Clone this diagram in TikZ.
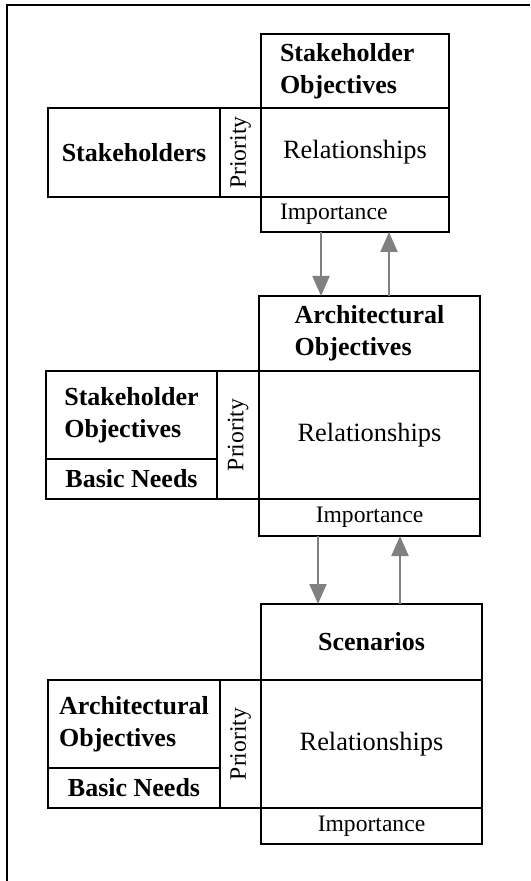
\documentclass[tikz,border=0pt]{standalone}
\usepackage{fontspec}
\setmainfont{Liberation Serif}
\usepackage{tikz}
\usetikzlibrary{positioning}
\usetikzlibrary{arrows.meta}

\begin{document}
\begin{tikzpicture}[
    x=0.5pt, y=-0.5pt,
    >={Triangle[width=8.5pt,length=10pt]},
    node distance=0pt and 0pt,
    every node/.style={font=\fontsize{11.8}{14}\selectfont},
    cell/.style={draw, line width=1.3pt, outer sep=0pt, inner sep=0pt},
    title/.style={cell, align=left, font=\fontsize{13}{16}\selectfont\bfseries},
    rel/.style={cell, font=\fontsize{13.2}{16}\selectfont},
    imp/.style={cell},
    prio/.style={cell},
    flow/.style={->, draw=gray, fill=gray, line width=1pt}
]
\useasboundingbox (0,0) rectangle (530,881);
\draw[line width=1.3pt] (7,881) -- (7,5) -- (530,5);

% stakeholders -> stakeholder objectives
\node[title, text width=75pt, inner xsep=9.5pt, minimum height=37pt] (hdr1) at (355,71) {Stakeholder\\Objectives};
\node[rel, minimum width=94pt, minimum height=44.5pt, below=of hdr1] (rel1) {Relationships\hspace{6pt}};
\node[imp, text width=75pt, inner xsep=9.5pt, minimum height=17.5pt, align=left, below=of rel1] (imp1) {Importance};
\node[prio, minimum width=20.5pt, minimum height=44.5pt, left=of rel1] (pri1) {\rotatebox{90}{Priority}};
\node[title, minimum width=86pt, minimum height=44.5pt, left=of pri1] (src1) {Stakeholders};

% stakeholder objectives -> architectural objectives
\node[title, minimum width=110.5pt, minimum height=37.5pt] (hdr2) at (369.5,333.5) {Architectural\\Objectives};
\node[rel, minimum width=110.5pt, minimum height=64pt, below=of hdr2] (rel2) {Relationships};
\node[imp, minimum width=110.5pt, minimum height=18.5pt, below=of rel2] (imp2) {Importance};
\node[prio, minimum width=21pt, minimum height=64pt, left=of rel2] (pri2) {\rotatebox{90}{Priority}};
\node[title, minimum width=85.5pt, minimum height=44pt, anchor=north east] (src2) at (pri2.north west) {Stakeholder\\Objectives};
\node[title, minimum width=85.5pt, minimum height=20pt, below=of src2] (need2) {Basic Needs};

% architectural objectives -> scenarios
\node[title, minimum width=110.5pt, minimum height=38pt] (hdr3) at (371.5,642) {Scenarios};
\node[rel, minimum width=110.5pt, minimum height=64pt, below=of hdr3] (rel3) {Relationships};
\node[imp, minimum width=110.5pt, minimum height=18pt, below=of rel3] (imp3) {Importance};
\node[prio, minimum width=20.5pt, minimum height=64pt, left=of rel3] (pri3) {\rotatebox{90}{Priority}};
\node[title, minimum width=86pt, minimum height=44pt, anchor=north east] (src3) at (pri3.north west) {Architectural\\Objectives};
\node[title, minimum width=86pt, minimum height=20pt, below=of src3] (need3) {Basic Needs};

\draw[flow] ([xshift=-17pt]imp1.south) -- ([xshift=-17pt]imp1.south |- hdr2.north);
\draw[flow] ([xshift=17pt]imp1.south |- hdr2.north) -- ([xshift=17pt]imp1.south);
\draw[flow] ([xshift=-25.75pt]imp2.south) -- ([xshift=-25.75pt]imp2.south |- hdr3.north);
\draw[flow] ([xshift=15.25pt]imp2.south |- hdr3.north) -- ([xshift=15.25pt]imp2.south);
\end{tikzpicture}
\end{document}
